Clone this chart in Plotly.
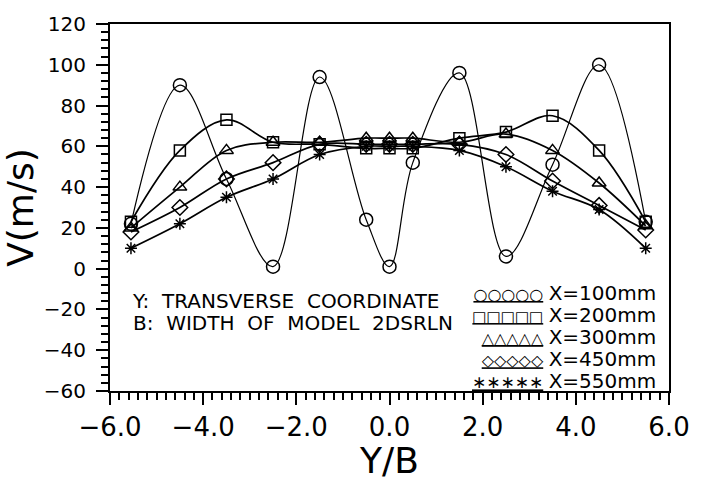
import plotly.graph_objects as go

# ---- data ----
y_over_b = [-5.55, -4.5, -3.5, -2.5, -1.5, -0.5, 0.0, 0.5, 1.5, 2.5, 3.5, 4.5, 5.5]
v_x100 = [22, 90, 44, 1, 94, 24, 1, 52, 96, 6, 51, 100, 23]
v_x200 = [23, 58, 73, 62, 61, 59, 59, 59, 64, 67, 75, 58, 23]
v_x300 = [20, 40, 58, 62, 62, 64, 64, 64, 62, 66, 58, 42, 21]
v_x450 = [18, 30, 44, 52, 61, 61, 61, 61, 61, 56, 43, 31, 19]
v_x550 = [10, 22, 35, 44, 56, 60, 60, 60, 58, 50, 38, 29, 10]

series_names = ["X=100mm", "X=200mm", "X=300mm", "X=450mm", "X=550mm"]
series_values = [v_x100, v_x200, v_x300, v_x450, v_x550]
legend_glyphs = ["○○○○○", "□□□□□", "△△△△△", "◇◇◇◇◇", "∗∗∗∗∗"]

x_ticks = [-6, -4, -2, 0, 2, 4, 6]
y_ticks = [-60, -40, -20, 0, 20, 40, 60, 80, 100, 120]

note_lines = ["Y:  TRANSVERSE  COORDINATE", "B:  WIDTH  OF  MODEL  2DSRLN"]

# ---- styles ----
symbols = ["circle-open", "square-open", "triangle-up-open", "diamond-open", "asterisk-open"]
sizes = [13, 11, 12, 12, 10]
lwidths = [1.2, 1.7, 1.7, 1.7, 1.7]
glyph_sizes = [16, 15, 16, 16, 17]
FONT = "DejaVu Sans"

fig = go.Figure()
for name, vals, sym, sz, lw in zip(series_names, series_values, symbols, sizes, lwidths):
    fig.add_trace(go.Scatter(
        x=y_over_b, y=vals, name=name, mode="lines+markers",
        line=dict(color="black", width=lw, shape="spline", smoothing=1.0),
        marker=dict(symbol=sym, size=sz, color="black",
                    line=dict(color="black", width=1.5)),
        showlegend=False,
    ))

L, R, T, B = 110, 21, 20, 71
W, H = 702, 481
pw, ph = W - L - R, H - T - B

def px(xp):
    return (xp - L) / pw

def py(yp):
    return (H - B - yp) / ph

annotations = []
# notes block (one text, two lines, 22 px apart)
notes_text = "<br>".join('<span style="font-size:20px">%s</span>' % t for t in note_lines)
annotations.append(dict(
    x=px(130), y=py(326), xref="paper", yref="paper",
    text=notes_text, showarrow=False, xanchor="left", yanchor="middle", align="left",
    font=dict(family=FONT, size=17, color="black")))

# legend block (one text, five lines, right aligned)
rows = []
for g, n, gs in zip(legend_glyphs, series_names, glyph_sizes):
    rows.append('<span style="font-size:%dpx"><u>%s</u></span> <span style="font-size:20px">%s</span>'
                % (gs, g, n))
annotations.append(dict(
    x=px(670), y=py(353), xref="paper", yref="paper",
    text="<br>".join(rows), showarrow=False, xanchor="right", yanchor="middle", align="right",
    font=dict(family=FONT, size=17, color="black")))

fig.update_layout(
    width=W, height=H,
    margin=dict(l=L, r=R, t=T, b=B, pad=0),
    paper_bgcolor="white", plot_bgcolor="white",
    font=dict(family=FONT, color="black"),
    annotations=annotations,
    xaxis=dict(
        range=[-6, 6], tickvals=x_ticks, tickformat=".1f",
        ticks="outside", ticklen=12, tickwidth=2, tickcolor="black",
        minor=dict(dtick=0.2, ticks="outside", ticklen=7, tickwidth=1.5, tickcolor="black"),
        showline=True, linewidth=2, linecolor="black", mirror=True,
        showgrid=False, zeroline=False,
        tickfont=dict(family=FONT, size=26, color="black"),
        title=dict(text="Y/B", font=dict(family=FONT, size=36, color="black"), standoff=2),
    ),
    yaxis=dict(
        range=[-60, 120], tickvals=y_ticks, tickformat="d",
        ticks="outside", ticklen=12, tickwidth=2, tickcolor="black",
        ticklabelstandoff=6,
        minor=dict(dtick=4, ticks="outside", ticklen=7, tickwidth=1.5, tickcolor="black"),
        showline=True, linewidth=2, linecolor="black", mirror=True,
        showgrid=False, zeroline=False,
        tickfont=dict(family=FONT, size=20, color="black"),
        title=dict(text="V(m/s)", font=dict(family=FONT, size=36, color="black"), standoff=2),
    ),
)

fig.write_html("out.html")
